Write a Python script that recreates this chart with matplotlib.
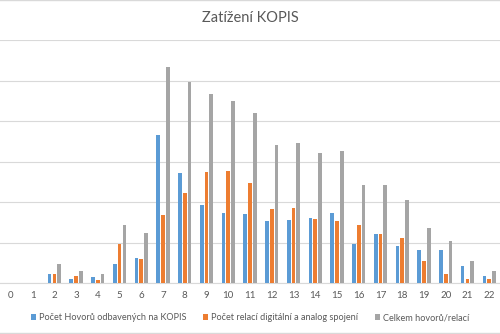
import matplotlib.pyplot as plt
from matplotlib.lines import Line2D
import numpy as np

plt.rcParams['font.family'] = ['Lato', 'DejaVu Sans']

categories = list(range(0, 23))
hovory = [0, 0, 2.3, 1.0, 1.4, 4.7, 6.2, 36.5, 27.2, 19.3, 17.2, 17.0,
          15.4, 15.6, 16.0, 17.3, 9.6, 12.0, 9.2, 8.1, 8.1, 4.3, 1.8]
relace = [0, 0, 2.3, 1.8, 0.7, 9.7, 6.0, 16.8, 22.2, 27.5, 27.7, 24.7,
          18.4, 18.6, 15.8, 15.2, 14.4, 12.0, 11.0, 5.4, 2.3, 1.0, 1.0]
celkem = [0, 0, 4.7, 3.0, 2.3, 14.4, 12.4, 53.4, 49.7, 46.8, 44.9, 41.9,
          34.1, 34.5, 32.1, 32.6, 24.2, 24.2, 20.5, 13.6, 10.4, 5.4, 3.0]
series_names = ['Počet Hovorů odbavených na KOPIS',
                'Počet relací digitální a analog spojení',
                'Celkem hovorů/relací']
colors = ['#5B9BD5', '#ED7D31', '#A5A5A5']
text_col = '#595959'

fig = plt.figure(figsize=(5, 3.34), dpi=100)
ax = fig.add_axes([0, 0.1527, 1, 0.7273])

x = np.arange(len(categories))
w = 0.17
off = 0.22
for i, (vals, name, c) in enumerate(zip([hovory, relace, celkem], series_names, colors)):
    ax.bar(x + (i - 1) * off, vals, width=w, color=c, label=name, zorder=3)

ax.set_xlim(-0.5, 22.5)
ax.set_ylim(0, 60)
ax.set_yticks(np.arange(0, 61, 10))
ax.set_yticklabels([])
ax.tick_params(axis='y', length=0)
ax.grid(axis='y', color='#d9d9d9', linewidth=0.8, zorder=0)
ax.set_xticks(x)
ax.set_xticklabels([str(c) for c in categories], fontsize=7, color=text_col)
ax.tick_params(axis='x', length=0, pad=6)
for s in ['top', 'left', 'right']:
    ax.spines[s].set_visible(False)
ax.spines['bottom'].set_color('#d9d9d9')
ax.spines['bottom'].set_linewidth(0.8)

fig.text(0.5, 0.945, 'Zatížení KOPIS', ha='center', va='center',
         fontsize=10.5, color=text_col)

leg = fig.legend(loc='center', bbox_to_anchor=(0.5, 0.048), ncol=3, frameon=False,
                 fontsize=6.6, handlelength=0.6, handleheight=0.6, handletextpad=0.3,
                 columnspacing=1.8)
for t in leg.get_texts():
    t.set_color(text_col)

fig.add_artist(Line2D([0, 1], [0.999, 0.999], color='#d9d9d9', lw=1, transform=fig.transFigure))
fig.add_artist(Line2D([0, 1], [0.003, 0.003], color='#d9d9d9', lw=1, transform=fig.transFigure))

fig.savefig('out.png', dpi=100)
